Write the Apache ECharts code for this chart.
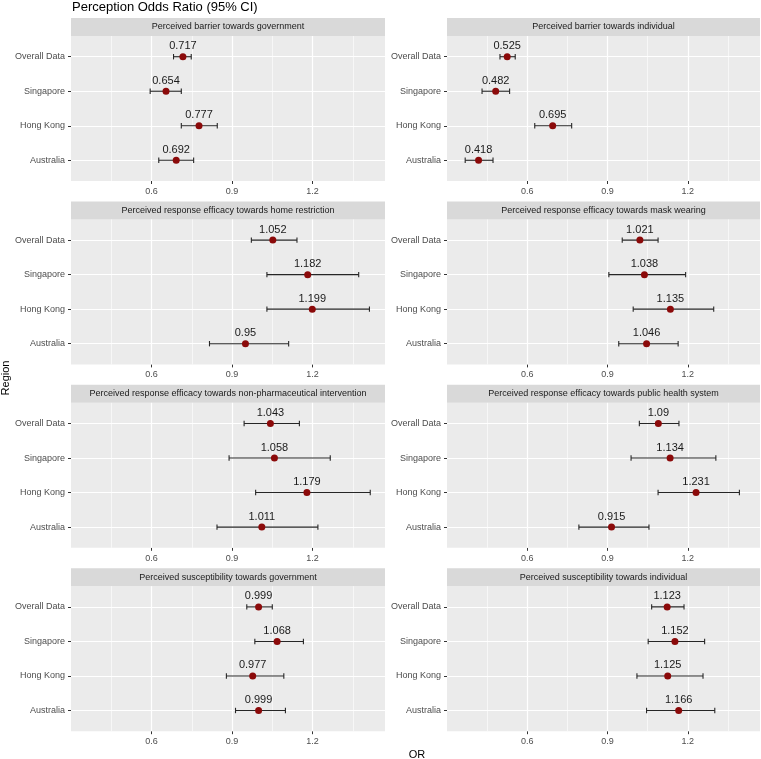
<!DOCTYPE html>
<html>
<head>
<meta charset="utf-8">
<script src="https://cdn.jsdelivr.net/npm/echarts@6/dist/echarts.min.js"></script>
<style>
html,body{margin:0;padding:0;background:#fff;}
#chart{width:761px;height:759px;}
</style>
</head>
<body>
<div id="chart"></div>
<script>
// ---------------- data ----------------
const regions = ['Overall Data', 'Singapore', 'Hong Kong', 'Australia'];
const regionPositions = [1, 2, 3, 4];
const panelTitles = [
  'Perceived barrier towards government',
  'Perceived barrier towards individual',
  'Perceived response efficacy towards home restriction',
  'Perceived response efficacy towards mask wearing',
  'Perceived response efficacy towards non-pharmaceutical intervention',
  'Perceived response efficacy towards public health system',
  'Perceived susceptibility towards government',
  'Perceived susceptibility towards individual'
];
const oddsRatio = [
  [0.717, 0.654, 0.777, 0.692],
  [0.525, 0.482, 0.695, 0.418],
  [1.052, 1.182, 1.199, 0.95],
  [1.021, 1.038, 1.135, 1.046],
  [1.043, 1.058, 1.179, 1.011],
  [1.09, 1.134, 1.231, 0.915],
  [0.999, 1.068, 0.977, 0.999],
  [1.123, 1.152, 1.125, 1.166]
];
const ciLower = [
  [0.682, 0.595, 0.711, 0.627],
  [0.498, 0.431, 0.628, 0.368],
  [0.972, 1.030, 1.030, 0.816],
  [0.955, 0.905, 0.996, 0.942],
  [0.945, 0.889, 0.988, 0.844],
  [1.019, 0.988, 1.089, 0.793],
  [0.955, 0.985, 0.879, 0.913],
  [1.065, 1.052, 1.010, 1.046]
];
const ciUpper = [
  [0.748, 0.711, 0.845, 0.757],
  [0.555, 0.534, 0.766, 0.472],
  [1.142, 1.372, 1.412, 1.111],
  [1.089, 1.192, 1.297, 1.164],
  [1.151, 1.266, 1.415, 1.220],
  [1.167, 1.305, 1.393, 1.055],
  [1.050, 1.166, 1.093, 1.099],
  [1.186, 1.263, 1.257, 1.301]
];
const xTickValues = [0.6, 0.9, 1.2];
const xMinorValues = [0.45, 0.75, 1.05, 1.35];
const chartTitle = 'Perception Odds Ratio (95% CI)';
const xTitle = 'OR';
const yTitle = 'Region';

// ---------------- layout / style ----------------
const FONT = '"Liberation Sans", Arial, sans-serif';
const colLeft = [71, 447];
const colWidth = [314, 313];
const rowTop0 = 36, rowStep = 183.4, panelH = 145, stripH = 18;
const xMin = 0.3, xMax = 1.47;
const yMin = 0.4, yMax = 4.6;
const capHalf = 0.078;

const grids = [], xAxes = [], yAxes = [], series = [], graphics = [];

panelTitles.forEach((t, i) => {
  const col = i % 2, row = Math.floor(i / 2);
  const left = colLeft[col], width = colWidth[col];
  const top = rowTop0 + row * rowStep;
  grids.push({
    left: left, top: top, width: width, height: panelH,
    show: true, backgroundColor: '#EBEBEB', borderWidth: 0, containLabel: false
  });
  xAxes.push({
    type: 'value', gridIndex: i, min: xMin, max: xMax,
    axisLine: { show: false },
    axisTick: { show: true, length: 3, customValues: xTickValues, lineStyle: { color: '#333333', width: 1 } },
    axisLabel: { customValues: xTickValues, color: '#4D4D4D', fontSize: 9, fontFamily: FONT, margin: 6,
      formatter: v => String(v) },
    splitLine: { show: false }, minorSplitLine: { show: false }
  });
  yAxes.push({
    type: 'value', gridIndex: i, min: yMin, max: yMax, inverse: true,
    axisLine: { show: false },
    axisTick: { show: true, length: 3, customValues: regionPositions, lineStyle: { color: '#333333', width: 1 } },
    axisLabel: { customValues: regionPositions, color: '#4D4D4D', fontSize: 9, fontFamily: FONT, margin: 6,
      formatter: v => regions[Math.round(v) - 1] || '' },
    splitLine: { show: false }
  });
  // gridlines through the axes' scales
  const mlData = [];
  xTickValues.forEach(v => mlData.push({ xAxis: v, lineStyle: { color: '#FFFFFF', width: 1.2, type: 'solid' } }));
  xMinorValues.forEach(v => mlData.push({ xAxis: v, lineStyle: { color: '#FFFFFF', width: 0.6, type: 'solid' } }));
  regionPositions.forEach(v => mlData.push({ yAxis: v, lineStyle: { color: '#FFFFFF', width: 1.2, type: 'solid' } }));
  series.push({
    type: 'line', xAxisIndex: i, yAxisIndex: i, data: [], z: 1, silent: true,
    markLine: { silent: true, z: 1, zlevel: 0, symbol: ['none', 'none'], label: { show: false }, animation: false, data: mlData }
  });
  // error bars
  series.push({
    type: 'custom', xAxisIndex: i, yAxisIndex: i, z: 3, silent: true,
    encode: { x: [0, 1], y: 2 },
    data: regions.map((r, k) => [ciLower[i][k], ciUpper[i][k], regionPositions[k]]),
    renderItem: function (params, api) {
      const lo = api.value(0), hi = api.value(1), y = api.value(2);
      const p1 = api.coord([lo, y]), p2 = api.coord([hi, y]);
      const a1 = api.coord([lo, y - capHalf]), b1 = api.coord([lo, y + capHalf]);
      const a2 = api.coord([hi, y - capHalf]), b2 = api.coord([hi, y + capHalf]);
      const st = { stroke: '#262626', lineWidth: 1.1 };
      return {
        type: 'group', children: [
          { type: 'line', shape: { x1: p1[0], y1: p1[1], x2: p2[0], y2: p2[1] }, style: st },
          { type: 'line', shape: { x1: a1[0], y1: a1[1], x2: b1[0], y2: b1[1] }, style: st },
          { type: 'line', shape: { x1: a2[0], y1: a2[1], x2: b2[0], y2: b2[1] }, style: st }
        ]
      };
    }
  });
  // points + labels
  series.push({
    type: 'scatter', xAxisIndex: i, yAxisIndex: i, z: 4, silent: true,
    symbol: 'circle', symbolSize: 7,
    itemStyle: { color: '#8B0A0A', opacity: 1 },
    data: regions.map((r, k) => [oddsRatio[i][k], regionPositions[k]]),
    label: {
      show: true, position: 'top', distance: 1.5, color: '#1A1A1A', fontSize: 11, fontFamily: FONT,
      formatter: p => String(p.value[0])
    }
  });
  // strip
  graphics.push({ type: 'rect', shape: { x: left, y: top - stripH, width: width, height: stripH },
    style: { fill: '#D9D9D9' }, silent: true });
  graphics.push({ type: 'text', x: left + width / 2, y: top - stripH / 2,
    style: { text: t, fill: '#1A1A1A', fontSize: 9, fontFamily: FONT, align: 'center', verticalAlign: 'middle' }, silent: true });
});

graphics.push({ type: 'text', x: 72, y: 7.5,
  style: { text: chartTitle, fill: '#000000', fontSize: 13, fontFamily: FONT, align: 'left', verticalAlign: 'middle' } });
graphics.push({ type: 'text', x: 417, y: 754.5,
  style: { text: xTitle, fill: '#000000', fontSize: 11, fontFamily: FONT, align: 'center', verticalAlign: 'middle' } });
graphics.push({ type: 'text', x: 6, y: 378, rotation: Math.PI / 2,
  style: { text: yTitle, fill: '#000000', fontSize: 11, fontFamily: FONT, align: 'center', verticalAlign: 'middle' } });

const chart = echarts.init(document.getElementById('chart'), null, { renderer: 'canvas' });
chart.setOption({
  backgroundColor: '#FFFFFF',
  animation: false,
  grid: grids,
  xAxis: xAxes,
  yAxis: yAxes,
  series: series,
  graphic: graphics
});
</script>
</body>
</html>
